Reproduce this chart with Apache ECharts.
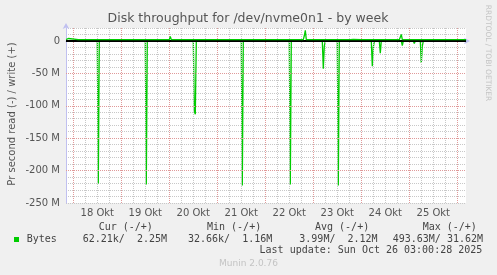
<!DOCTYPE html>
<html><head><meta charset="utf-8">
<script src="https://cdn.jsdelivr.net/npm/echarts@6/dist/echarts.min.js"></script>
<style>html,body{margin:0;padding:0;background:#f0f0f0}#c{width:497px;height:275px}</style>
</head><body><div id="c"></div>
<script>
// x in hours from 18 Okt 00:00, y in MB/s (negative = read, positive = write)
const dayLabels = ['18 Okt','19 Okt','20 Okt','21 Okt','22 Okt','23 Okt','24 Okt','25 Okt'];
const labelHours = [12,36,60,84,108,132,156,180];
const yTickLabels = [0,-50,-100,-150,-200,-250];

const readPoints = [
 [-3.6,-0.1],[12.0,-0.1],[12.5,-220],[13.0,-0.1],
 [36.0,-0.1],[36.5,-221.5],[37.0,-0.1],
 [60.0,-0.1],[60.5,-108],[61.0,-113],[61.5,-0.1],
 [84.0,-0.1],[84.5,-223],[85.0,-0.1],
 [108.0,-0.1],[108.5,-221.5],[109.0,-0.1],
 [116.0,-0.1],[116.5,-3.0],[117.0,-0.1],
 [124.5,-0.1],[125.0,-43],[125.5,-8],[126.0,-0.1],
 [132.0,-0.1],[132.5,-223],[133.0,-0.1],
 [149.0,-0.1],[149.5,-39],[150.0,-10],[150.5,-0.1],
 [153.0,-0.1],[153.5,-19],[154.0,-0.1],
 [164.0,-0.1],[164.5,-7],[165.0,-0.1],
 [170.0,-0.1],[170.5,-4],[171.0,-0.1],[171.5,-3],[172.0,-0.1],
 [173.5,-0.1],[174.0,-34],[174.5,-8],[175.0,-0.1],
 [189.0,-0.1],[189.5,-2.5],[190.0,-0.1],[196.4,-0.1]
];

const writePoints = [
 [-3.6,2.0],[-3.0,2.0],[-2.5,3.8],[-2.0,2.0],
 [2.5,2.0],[3.0,3.5],[3.5,2.0],[5.0,2.0],[5.5,3.5],[6.0,2.0],
 [8.0,2.0],[8.5,3.5],[9.0,2.0],[12.0,2.0],[12.5,3.2],[13.0,2.0],
 [26.5,2.0],[27.0,3.5],[27.5,2.0],[29.0,2.0],[29.5,3.5],[30.0,2.0],
 [34.0,2.0],[34.5,3.5],[35.0,2.0],[36.0,2.0],[36.5,3.5],[37.0,2.0],
 [41.0,2.0],[41.5,3.5],[42.0,2.0],[48.0,2.0],[48.5,7.0],[49.0,2.0],
 [53.0,2.0],[53.5,3.5],[54.0,2.0],[60.0,2.0],[60.5,3.5],[61.0,2.0],
 [69.0,2.0],[69.5,3.5],[70.0,2.0],[74.5,2.0],[75.0,3.5],[75.5,2.0],
 [77.0,2.0],[77.5,3.5],[78.0,2.0],[85.5,2.0],[86.0,3.5],[86.5,3.0],[87.0,2.0],
 [93.0,2.0],[93.5,3.5],[94.0,2.0],[98.5,2.0],[99.0,3.5],[99.5,2.0],
 [101.0,2.0],[101.5,3.5],[102.0,2.0],[108.0,2.0],[108.5,3.5],[109.0,2.0],
 [112.0,2.0],[112.5,3.0],[113.0,2.0],[115.0,2.0],[115.5,8.0],[116.0,16.5],[116.5,2.0],
 [117.0,2.0],[117.5,3.5],[118.0,2.0],[122.5,2.0],[123.0,3.0],[123.5,2.0],
 [125.5,2.0],[126.0,3.5],[126.5,2.0],[129.5,2.0],[130.0,3.5],[130.5,2.0],
 [133.0,2.0],[133.5,3.5],[134.0,2.0],[138.5,2.0],[139.0,3.5],[139.5,2.5],[140.0,2.5],[140.5,3.5],[141.0,2.0],
 [144.0,2.0],[144.5,3.0],[145.0,2.0],[149.5,2.0],[150.0,3.5],[150.5,2.0],
 [153.5,2.0],[154.0,3.5],[154.5,2.0],[156.0,2.0],[156.5,3.0],[157.0,2.0],
 [163.0,2.0],[163.5,4.0],[164.0,10.0],[164.5,2.0],
 [169.5,2.0],[170.0,3.5],[170.5,2.0],[171.0,2.0],[171.5,3.5],[172.0,2.0],
 [173.5,2.0],[174.0,3.0],[174.5,2.0],[179.5,2.0],[180.0,3.0],[180.5,2.0],
 [182.0,2.0],[182.5,3.0],[183.0,2.0],[188.5,2.0],[189.0,3.0],[189.5,2.0],
 [191.5,2.0],[192.0,3.0],[192.5,2.0],[194.5,2.0],[195.0,3.0],[195.5,2.0],[196.4,2.2]
];

const legendHeaders = [['Cur (-/+)',98.7],['Min (-/+)',207],['Avg (-/+)',315],['Max (-/+)',422.7]];
const legendValues = [['62.21k/  2.25M',82.7],['32.66k/  1.16M',188],['3.99M/  2.12M',299.3],['493.63M/ 31.62M',392.7]];

const GREEN = '#00cc00';
const FONT = 'DejaVu Sans';
const MONO = 'DejaVu Sans Mono';

// grid line positions (styling)
const minorV = [], majorV = [];
for (let h = 0; h <= 196; h += 6) { if (h % 24 === 0) majorV.push({xAxis: h}); else minorV.push({xAxis: h}); }
const majorH = [-50,-100,-150,-200].map(v => ({yAxis: v}));

const chart = echarts.init(document.getElementById('c'), null, {renderer: 'canvas'});
const ml = (data, color, width, type) => ({
  silent: true, symbol: 'none', label: {show: false}, animation: false,
  lineStyle: {color, width, type}, data
});

const textEl = (text, x, y, opt) => Object.assign({
  type: 'text', x, y, silent: true,
  style: Object.assign({text, fill: '#555', font: '10px ' + FONT, textVerticalAlign: 'middle'}, opt && opt.style || {})
}, opt && opt.el || {});

chart.setOption({
  backgroundColor: '#f0f0f0',
  animation: false,
  grid: {left: 66, right: 31, top: 28, bottom: 72, show: true, backgroundColor: '#ffffff', borderWidth: 0},
  xAxis: {
    type: 'value', min: -3.65, max: 196.35,
    axisLine: {show: true, lineStyle: {color: '#c0c0f0', width: 1}, symbol: ['none', 'arrow'], symbolSize: [5, 6], symbolOffset: [0, 4]},
    axisTick: {show: false},
    splitLine: {show: false},
    axisLabel: {
      customValues: labelHours, color: '#555', fontFamily: FONT, fontSize: 10, margin: 5,
      formatter: v => { const i = labelHours.indexOf(Math.round(v)); return i >= 0 ? dayLabels[i] : ''; }
    }
  },
  yAxis: {
    type: 'value', min: -250, max: 20, interval: 10,
    axisLine: {show: true, onZero: false, lineStyle: {color: '#c0c0f0', width: 1}, symbol: ['none', 'arrow'], symbolSize: [5, 6], symbolOffset: [0, 5]},
    axisTick: {show: false},
    splitLine: {show: true, lineStyle: {color: '#c8c8c8', width: 1, type: [1, 1]}},
    axisLabel: {
      color: '#555', fontFamily: FONT, fontSize: 10, margin: 6,
      formatter: v => (yTickLabels.indexOf(v) >= 0 ? (v === 0 ? '0' : v + ' M') : '')
    }
  },
  series: [
    {type: 'line', name: 'grid', data: [], z: 1,
     markLine: ml(minorV, '#c8c8c8', 1, [1, 1])},
    {type: 'line', name: 'grid2', data: [], z: 1,
     markLine: ml(majorV.concat(majorH), '#e09a9a', 1, [1, 1])},
    {type: 'line', name: 'read', data: readPoints, showSymbol: false, z: 3,
     lineStyle: {color: GREEN, width: 1.3}, itemStyle: {color: GREEN}},
    {type: 'line', name: 'zero', data: [], z: 4,
     markLine: ml([{yAxis: 0}], '#000000', 2, 'solid')},
    {type: 'line', name: 'write', data: writePoints, showSymbol: false, z: 5,
     lineStyle: {color: GREEN, width: 1.3}, itemStyle: {color: GREEN}}
  ],
  graphic: [
    textEl('Disk throughput for /dev/nvme0n1 - by week', 248, 18.5, {style: {font: '12.5px ' + FONT, textAlign: 'center', fill: '#555'}}),
    textEl('Pr second read (-) / write (+)', 12, 114, {style: {textAlign: 'center'}, el: {rotation: Math.PI / 2}}),
    textEl('RRDTOOL / TOBI OETIKER', 487.5, 53, {style: {textAlign: 'center', font: '7.5px ' + FONT, fill: '#c4c4c4'}, el: {rotation: -Math.PI / 2}}),
    {type: 'rect', shape: {x: 14, y: 237, width: 5, height: 5}, style: {fill: GREEN}, silent: true},
    textEl('Bytes', 26.7, 239.7, {style: {font: '10px ' + MONO, fill: '#444'}}),
    ...legendHeaders.map(([t, x]) => textEl(t, x, 227.7, {style: {font: '10px ' + MONO, fill: '#444'}})),
    ...legendValues.map(([t, x]) => textEl(t, x, 239.7, {style: {font: '10px ' + MONO, fill: '#444'}})),
    textEl('Last update: Sun Oct 26 03:00:28 2025', 482.3, 250.7, {style: {font: '10px ' + MONO, fill: '#444', textAlign: 'right'}}),
    textEl('Munin 2.0.76', 248.5, 264, {style: {font: '9px ' + FONT, fill: '#c4c4c4', textAlign: 'center'}})
  ]
});
</script></body></html>
